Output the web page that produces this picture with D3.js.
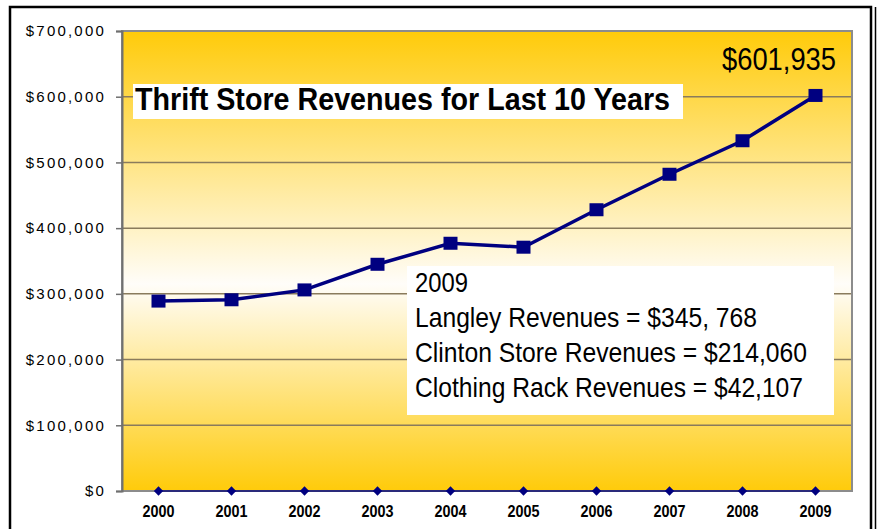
<!DOCTYPE html>
<html>
<head>
<meta charset="utf-8">
<script src="https://cdn.jsdelivr.net/npm/d3@7"></script>
<style>
  html, body { margin: 0; padding: 0; background: #fff; }
  svg { display: block; }
  text { font-family: "Liberation Sans", Arial, sans-serif; }
</style>
</head>
<body>
<svg id="chart"></svg>
<script>
// data
const years = ["2000","2001","2002","2003","2004","2005","2006","2007","2008","2009"];
const revenues = [289000, 291000, 306000, 345000, 377000, 371000, 428000, 482000, 533000, 601935];
const zeros = [0, 0, 0, 0, 0, 0, 0, 0, 0, 0];
const yTicks = [0, 100000, 200000, 300000, 400000, 500000, 600000, 700000];
const title = "Thrift Store Revenues for Last 10 Years";
const lastLabel = "$601,935";
const noteLines = ["2009", "Langley Revenues = $345, 768", "Clinton Store Revenues = $214,060", "Clothing Rack Revenues = $42,107"];
const noteWidths = [53, 342, 392, 388];

const width = 880, height = 529;
const plot = {left: 122, top: 31, right: 852, bottom: 491};

var svg = d3.select("#chart").attr("width", width).attr("height", height);

// frame
svg.append("rect").attr("x", 10).attr("y", 7).attr("width", 861).attr("height", 540)
  .attr("fill", "none").attr("stroke", "#000").attr("stroke-width", 2.5);
svg.append("line").attr("x1", 875.5).attr("x2", 875.5).attr("y1", 7).attr("y2", 529)
  .attr("stroke", "#000").attr("stroke-width", 1.5);

const x = d3.scaleBand().domain(years).range([plot.left, plot.right]);
const y = d3.scaleLinear().domain([0, 700000]).range([plot.bottom, plot.top]);

// background gradient
const grad = svg.append("defs").append("linearGradient")
  .attr("id", "bg").attr("x1", 0).attr("x2", 0).attr("y1", 0).attr("y2", 1);
grad.append("stop").attr("offset", "0%").attr("stop-color", "#ffcb0a");
grad.append("stop").attr("offset", "55%").attr("stop-color", "#fffdf9");
grad.append("stop").attr("offset", "100%").attr("stop-color", "#ffcb0a");

svg.append("rect")
  .attr("x", plot.left).attr("y", plot.top)
  .attr("width", plot.right - plot.left).attr("height", plot.bottom - plot.top)
  .attr("fill", "url(#bg)");

// gridlines
svg.append("g")
  .selectAll("line")
  .data(yTicks.filter(d => d > 0 && d < 700000))
  .join("line")
  .attr("x1", plot.left).attr("x2", plot.right)
  .attr("y1", d => y(d)).attr("y2", d => y(d))
  .attr("stroke", "#8a7b5c").attr("stroke-width", 1.5);

// plot border
svg.append("rect")
  .attr("x", plot.left).attr("y", plot.top)
  .attr("width", plot.right - plot.left).attr("height", plot.bottom - plot.top)
  .attr("fill", "none").attr("stroke", "#8c8c8c").attr("stroke-width", 2);

// y axis
var yAxis = svg.append("g")
  .attr("transform", `translate(${plot.left},0)`)
  .call(d3.axisLeft(y).tickValues(yTicks).tickSize(6).tickPadding(10)
    .tickFormat(d => "$" + d3.format(",")(d)));
yAxis.select(".domain").attr("stroke", "#707070").attr("stroke-width", 2);
yAxis.selectAll(".tick line").attr("stroke", "#707070").attr("stroke-width", 1.5);
yAxis.selectAll(".tick text")
  .attr("fill", "#000")
  .style("font-size", "15px")
  .style("letter-spacing", "2.2px");

// x axis labels
var xAxis = svg.append("g")
  .attr("transform", `translate(0,${plot.bottom})`)
  .call(d3.axisBottom(x).tickSize(0).tickPadding(14));
xAxis.select(".domain").remove();
xAxis.selectAll(".tick text")
  .attr("fill", "#000")
  .attr("textLength", 32).attr("lengthAdjust", "spacingAndGlyphs")
  .style("font-size", "17px")
  .style("font-weight", "bold");

const cx = d => x(d) + x.bandwidth() / 2;

// zero series
svg.append("path")
  .datum(zeros)
  .attr("fill", "none").attr("stroke", "#2a2a7a").attr("stroke-width", 2)
  .attr("d", d3.line().x((d, i) => cx(years[i])).y(d => y(d)));
svg.append("g")
  .selectAll("path")
  .data(zeros)
  .join("path")
  .attr("transform", (d, i) => `translate(${cx(years[i])},${y(d)})`)
  .attr("d", d3.symbol().type(d3.symbolDiamond2).size(55))
  .attr("fill", "#000080");

// revenue line
svg.append("path")
  .datum(revenues)
  .attr("fill", "none").attr("stroke", "#000080").attr("stroke-width", 3.5)
  .attr("d", d3.line().x((d, i) => cx(years[i])).y(d => y(d)));
svg.append("g")
  .selectAll("rect")
  .data(revenues)
  .join("rect")
  .attr("x", (d, i) => cx(years[i]) - 7)
  .attr("y", d => y(d) - 6.5)
  .attr("width", 14).attr("height", 13)
  .attr("fill", "#000080");

// title box
svg.append("rect").attr("x", 133).attr("y", 84).attr("width", 550).attr("height", 35).attr("fill", "#fff");
svg.append("text")
  .attr("x", 135).attr("y", 110)
  .attr("textLength", 535).attr("lengthAdjust", "spacingAndGlyphs")
  .style("font-size", "32px").style("font-weight", "bold")
  .text(title);

// last value label
svg.append("text")
  .attr("x", 722).attr("y", 70)
  .attr("textLength", 114).attr("lengthAdjust", "spacingAndGlyphs")
  .style("font-size", "32px")
  .text(lastLabel);

// note box
svg.append("rect").attr("x", 407).attr("y", 266).attr("width", 427).attr("height", 149).attr("fill", "#fff");
svg.append("g")
  .selectAll("text")
  .data(noteLines)
  .join("text")
  .attr("x", 415)
  .attr("y", (d, i) => 292 + i * 35)
  .attr("textLength", (d, i) => noteWidths[i]).attr("lengthAdjust", "spacingAndGlyphs")
  .style("font-size", "28px")
  .text(d => d);
</script>
</body>
</html>
